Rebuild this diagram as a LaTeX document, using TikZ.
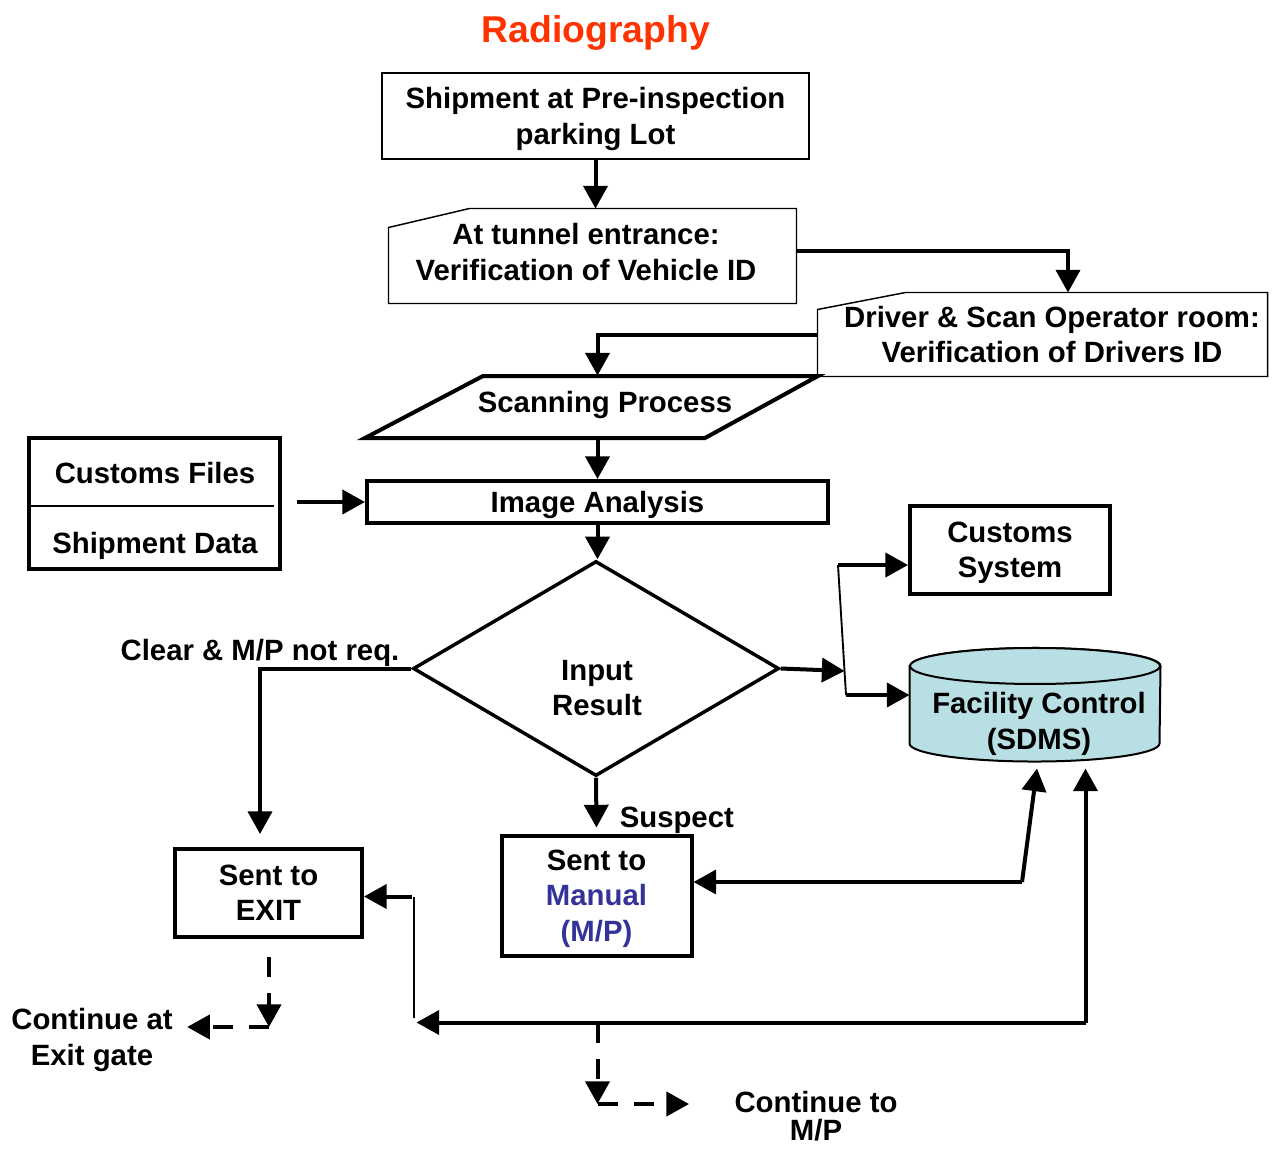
\documentclass[tikz,border=0pt]{standalone}
\usepackage{fontspec}
\setmainfont{Liberation Sans}
\usetikzlibrary{arrows.meta,calc,shapes.geometric}

\newcommand{\mcFont}{\fontsize{22}{26.5}\selectfont\bfseries}
\definecolor{mcRed}{RGB}{255,51,0}
\definecolor{mcBlue}{RGB}{51,51,153}
\definecolor{mcCyl}{RGB}{184,224,228}

\tikzset{every picture/.style={line width=0.75pt}}
\tikzset{
	thinbox/.style={draw, line width=1.1pt, inner sep=0pt, align=center, font=\mcFont, text depth=0pt},
	boldbox/.style={draw, line width=3pt, inner sep=0pt, align=center, font=\mcFont, text depth=0pt},
	hollow/.style={inner sep=0pt},
	txt/.style={inner sep=0pt, align=center, font=\mcFont},
	arr/.style={line width=3pt, -{Triangle[length=17pt,width=18pt]}},
	darr/.style={arr, dash pattern=on 15pt off 12pt},
	thinline/.style={line width=1.1pt},
	splitline/.style={line width=1.4pt}
}

\begin{document}
\begin{tikzpicture}[x=0.75pt,y=0.75pt,yscale=-1,xscale=1]
	\useasboundingbox (0,0) rectangle (1280,1149);

	% Text Node
	\node (ttl) at (596,33) [font=\fontsize{28}{32}\selectfont\bfseries, text=mcRed] {Radiography};

	%Shape: Rectangle [id:ship]
	\node (ship) at (595.5,116) [thinbox, minimum width=320.25pt, minimum height=64.5pt] {Shipment at Pre-inspection\\parking Lot};

	%Shape: Cut Rectangle [id:tun]
	\node (tun) at (592.5,256) [hollow, minimum width=305.25pt, minimum height=70.5pt] {};
	\draw [thinline] ($(tun.north west)+(0,19)$) -- ($(tun.north west)+(81,0)$) -- (tun.north east) -- (tun.south east) -- (tun.south west) -- cycle ;
	% Text Node
	\node (tunT) at (586,252) [txt] {At tunnel entrance:\\Verification of Vehicle ID};

	%Shape: Cut Rectangle [id:drv]
	\node (drv) at (1042.5,334.5) [hollow, minimum width=336.75pt, minimum height=62.25pt] {};
	\draw [thinline] ($(drv.north west)+(0,17)$) -- ($(drv.north west)+(88,0)$) -- (drv.north east) -- (drv.south east) -- (drv.south west) -- cycle ;
	% Text Node
	\node (drvT) at (1052,334.5) [txt] {Driver \& Scan Operator room:\\Verification of Drivers ID};

	%Shape: Parallelogram [id:scan]
	\node (scan) at (597.5,407) [hollow, minimum width=150pt, minimum height=46.5pt] {};
	\draw [line width=3pt] ($(scan.center)+(-232.5,31)$) -- ($(scan.center)+(-114.5,-31)$) -- ($(scan.center)+(220.5,-31)$) -- ($(scan.center)+(107.5,31)$) -- cycle ;
	% Text Node
	\node (scanT) at (605,405) [txt] {Scanning Process};

	%Shape: Rectangle [id:img]
	\node (img) at (597.5,502) [boldbox, minimum width=345.75pt, minimum height=31.5pt] {Image Analysis};

	%Shape: Rectangle [id:cf]
	\node (cf) at (154.5,503.5) [boldbox, minimum width=188.25pt, minimum height=98.25pt] {};
	\draw [thinline] ($(cf.west)+(4,2.5)$) -- ($(cf.east)+(-8,2.5)$) ;
	% Text Node
	\node (cfA) at (155,473) [txt] {Customs Files};
	% Text Node
	\node (cfB) at (155,546) [txt] {Shipment Data};

	%Shape: Diamond [id:res]
	\node (res) at (596,668.5) [draw, diamond, line width=2.6pt, inner sep=0pt, minimum width=274.5pt, minimum height=161.25pt] {};
	% Text Node
	\node (resT) at (597,688) [txt] {Input\\Result};

	%Shape: Rectangle [id:cs]
	\node (cs) at (1010,550) [boldbox, minimum width=150pt, minimum height=66pt] {Customs\\System};

	%Shape: Can [id:fc]
	\node (fc) at (1035,704.75) [hollow, minimum width=187.5pt, minimum height=57.4pt] {};
	\draw [line width=1.5pt, fill=mcCyl] (fc.north west) -- (fc.south west) arc [start angle=180, end angle=0, x radius=125, y radius=18] -- (fc.north east) arc [start angle=0, end angle=-180, x radius=125, y radius=18] -- cycle ;
	\draw [line width=1.5pt, fill=mcCyl] (fc.north) ellipse [x radius=125, y radius=18] ;
	% Text Node
	\node (fcT) at (1039,724) [txt] {Facility Control\\(SDMS)};

	%Shape: Rectangle [id:man]
	\node (man) at (596.5,895.5) [boldbox, text depth=-8pt, minimum width=142.5pt, minimum height=90pt] {Sent to\\\textcolor{mcBlue}{Manual}\\\textcolor{mcBlue}{(M/P)}};

	%Shape: Rectangle [id:ex]
	\node (ex) at (268.5,893) [boldbox, minimum width=140.25pt, minimum height=66pt] {Sent to\\EXIT};

	% Text Node
	\node (exg) at (92,1040) [txt] {Continue at\\Exit gate};
	% Text Node
	\node (cmp) at (816,1116) [txt] {Continue to\\[-5pt]M/P};

	% Joints
	\coordinate (sp1) at (838,565) ;
	\coordinate (sp2) at (846,695) ;
	\coordinate (m1) at (1022,882) ;
	\coordinate (b1) at (1085.5,1022.5) ;
	\coordinate (t1) at (414,896.5) ;
	\coordinate (t2) at (414,1018) ;
	\coordinate (c1) at (269,1027) ;
	\coordinate (c2) at (597.5,1104) ;

	% Connectors
	\draw [arr] (ship.south) -- (ship.south |- tun.north) ;
	\draw [arr] ($(tun.east)+(0,-5)$) -| ($(drv.north)+(25.5,0)$) ;
	\draw [arr] (drv.west) -| (scan.north) ;
	\draw [arr] (scan.south) -- (img.north) ;
	\draw [arr] ($(cf.east |- img.west)+(15,0)$) -- (img.west) ;
	\draw [arr] (img.south) -- (img.south |- res.north) ;
	\draw [arr] (res.east) -- ($(sp1)!0.815!(sp2)$) ;
	\draw [splitline] (sp1) -- (sp2) ;
	\draw [arr] (sp1) -- (sp1 -| cs.west) ;
	\draw [arr] (sp2) -- (sp2 -| fc.west) ;
	\draw [arr] (res.west) -| ($(ex.north)+(-8.5,-13)$) node [pos=0.5, above=0pt, txt] {Clear \& M/P not req.} ;
	\draw [arr] (res.south) -- ($(man.north)+(0,-6)$) node [pos=0.85, right=16pt, txt] {Suspect} ;
	\draw [arr] (m1) -- (m1 -| man.east) ;
	\draw [arr] (m1) -- ($(fc.south)+(2,25)$) ;
	\draw [arr] (b1) -- ($(fc.south)+(50.5,25)$) ;
	\draw [arr] (b1) -- ($(b1 -| t2)+(2.5,0)$) ;
	\draw [thinline] (t1) -- (t2) ;
	\draw [arr] ($(t1)+(-2,0)$) -- (t1 -| ex.east) ;
	\draw [darr] ($(ex.south)+(0.5,18)$) -- (c1) ;
	\draw [darr] (c1) -- ($(c1 -| exg.east)+(14,0)$) ;
	\draw [darr] (c2 |- b1) -- (c2) ;
	\draw [darr] (c2) -- ($(c2 -| cmp.west)+(-45,0)$) ;

\end{tikzpicture}
\end{document}
